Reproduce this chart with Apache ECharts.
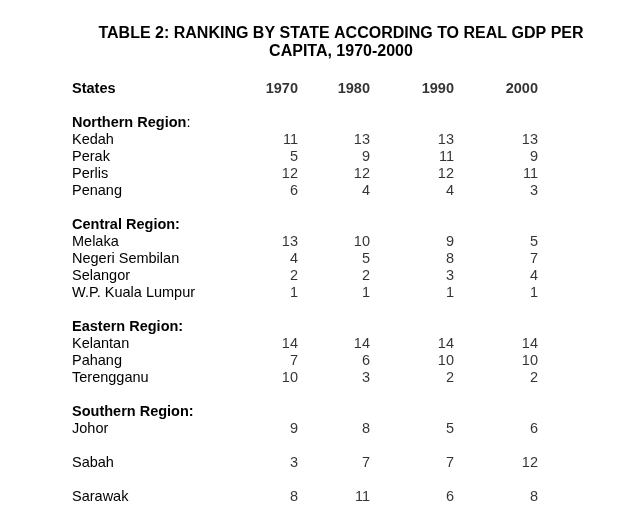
<!DOCTYPE html>
<html>
<head>
<meta charset="utf-8">
<script src="https://cdn.jsdelivr.net/npm/echarts@6/dist/echarts.min.js"></script>
<style>
  html, body { margin: 0; padding: 0; background: #fff; }
  #chart { width: 630px; height: 531px; }
</style>
</head>
<body>
<div id="chart"></div>
<script>
// ---- Data ----
const titleText = 'TABLE 2: RANKING BY STATE ACCORDING TO REAL GDP PER\nCAPITA, 1970-2000';
const years = ['1970', '1980', '1990', '2000'];
const headerLabel = 'States';
const rows = [
  'States', '_b1',
  'Northern Region:', 'Kedah', 'Perak', 'Perlis', 'Penang', '_b2',
  'Central Region:', 'Melaka', 'Negeri Sembilan', 'Selangor', 'W.P. Kuala Lumpur', '_b3',
  'Eastern Region:', 'Kelantan', 'Pahang', 'Terengganu', '_b4',
  'Southern Region:', 'Johor', '_b5',
  'Sabah', '_b6',
  'Sarawak'
];
const regionHeaders = ['Northern Region:', 'Central Region:', 'Eastern Region:', 'Southern Region:'];
const states = ['Kedah', 'Perak', 'Perlis', 'Penang', 'Melaka', 'Negeri Sembilan', 'Selangor',
  'W.P. Kuala Lumpur', 'Kelantan', 'Pahang', 'Terengganu', 'Johor', 'Sabah', 'Sarawak'];
const rank1970 = [11, 5, 12, 6, 13, 4, 2, 1, 14, 7, 10, 9, 3, 8];
const rank1980 = [13, 9, 12, 4, 10, 5, 2, 1, 14, 6, 3, 8, 7, 11];
const rank1990 = [13, 11, 12, 4, 9, 8, 3, 1, 14, 10, 2, 5, 7, 6];
const rank2000 = [13, 9, 11, 3, 5, 7, 4, 1, 14, 10, 2, 6, 12, 8];
const ranks = [rank1970, rank1980, rank1990, rank2000];

// ---- Styles ----
const FONT = '"Liberation Sans", Arial, sans-serif';
const FS = 14.5;
const colOffsets = [0, -8, -4, 0];

const chart = echarts.init(document.getElementById('chart'), null, { renderer: 'canvas' });

const series = years.map((yr, i) => ({
  type: 'scatter',
  name: yr,
  symbolSize: 1,
  itemStyle: { color: 'rgba(0,0,0,0)' },
  silent: true,
  data: states.map((s, j) => [i, rows.indexOf(s), ranks[i][j]]),
  label: {
    show: true,
    position: 'inside',
    align: 'right',
    verticalAlign: 'middle',
    offset: [colOffsets[i], 0],
    formatter: p => String(p.value[2]),
    color: '#000',
    fontFamily: FONT,
    fontSize: FS
  }
}));

series.push({
  type: 'scatter',
  name: 'header',
  symbolSize: 1,
  itemStyle: { color: 'rgba(0,0,0,0)' },
  silent: true,
  data: years.map((yr, i) => ({
    value: [i, rows.indexOf(headerLabel)],
    label: { offset: [colOffsets[i], 0] }
  })),
  label: {
    show: true,
    position: 'inside',
    align: 'right',
    verticalAlign: 'middle',
    formatter: p => years[p.dataIndex],
    color: '#000',
    fontFamily: FONT,
    fontSize: FS,
    fontWeight: 'bold'
  }
});

const option = {
  backgroundColor: '#fff',
  animation: false,
  graphic: [{
    type: 'text',
    x: 341,
    y: 25,
    style: {
      text: titleText,
      textAlign: 'center',
      textVerticalAlign: 'top',
      font: 'bold 16px ' + FONT,
      lineHeight: 18,
      fill: '#000'
    }
  }],
  grid: { left: 298, right: 92, top: 89, bottom: 34, containLabel: false },
  xAxis: {
    type: 'category',
    data: years,
    boundaryGap: false,
    axisLine: { show: false },
    axisTick: { show: false },
    axisLabel: { show: false },
    splitLine: { show: false }
  },
  yAxis: {
    type: 'category',
    data: rows,
    inverse: true,
    boundaryGap: false,
    axisLine: { show: false },
    axisTick: { show: false },
    splitLine: { show: false },
    axisLabel: {
      show: true,
      interval: 0,
      align: 'left',
      margin: 226,
      color: '#000',
      fontFamily: FONT,
      fontSize: FS,
      formatter: v => {
        if (v.charAt(0) === '_') return '';
        if (v === headerLabel) return '{b|' + v + '}';
        if (regionHeaders.indexOf(v) >= 0) {
          if (v === 'Northern Region:') return '{b|Northern Region}{n|:}';
          return '{b|' + v + '}';
        }
        return v;
      },
      rich: {
        b: { fontWeight: 'bold', fontFamily: FONT, fontSize: FS, color: '#000' },
        n: { fontFamily: FONT, fontSize: FS, color: '#000' }
      }
    }
  },
  series: series
};

chart.setOption(option);
</script>
</body>
</html>
